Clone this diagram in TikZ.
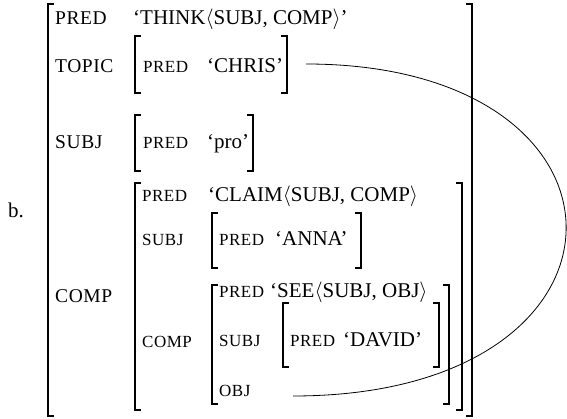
\documentclass[tikz,border=0pt]{standalone}
\usepackage{fontspec}
\setmainfont{Liberation Serif}
\tikzset{
  corchete/.style={line width=1.2pt},
  liga/.style={line width=0.8pt},
  atrA/.style={anchor=base west, inner sep=0pt, font=\fontsize{19.5}{21}\selectfont\addfontfeature{LetterSpace=3}},
  atrB/.style={anchor=base west, inner sep=0pt, font=\fontsize{17}{19}\selectfont\addfontfeature{LetterSpace=3}},
  valor/.style={anchor=base west, inner sep=0pt, font=\fontsize{21}{23}\selectfont}
}
\begin{document}
\begin{tikzpicture}[x=1pt, y=-1pt]
  \useasboundingbox (0,0) rectangle (567,419);

  % Etiqueta del ejemplo
  \node[valor] (etiq) at (8,218) {b.};

  % Nivel superior
  \node[atrA] (predA) at (55,25) {PRED};
  \node[valor] (thinkV) at (133,25) {`THINK$\langle$SUBJ, COMP$\rangle$'};
  \node[atrA] (topicA) at (55,73) {TOPIC};
  \node[atrB] (predT) at (143,73) {PRED};
  \node[valor] (chrisV) at (207,73) {`CHRIS'};
  \node[atrA] (subjA) at (55,149) {SUBJ};
  \node[atrB] (predS) at (143,149) {PRED};
  \node[valor] (proV) at (207,149) {`pro'};
  \node[atrA] (compA) at (55,302) {COMP};

  % COMP
  \node[atrB] (predC) at (142,202) {PRED};
  \node[valor] (claimV) at (208,202) {`CLAIM$\langle$SUBJ, COMP$\rangle$};
  \node[atrB] (subjC) at (142,246) {SUBJ};
  \node[atrB] (predCS) at (219,246) {PRED};
  \node[valor] (annaV) at (275,246) {`ANNA'};
  \node[atrB] (compC) at (142,347) {COMP};

  % COMP interior
  \node[atrB] (predI) at (219,298) {PRED};
  \node[valor] (seeV) at (270,298) {`SEE$\langle$SUBJ, OBJ$\rangle$};
  \node[atrB] (subjI) at (219,346) {SUBJ};
  \node[atrB] (predIS) at (290,346) {PRED};
  \node[valor] (davidV) at (343,346) {`DAVID'};
  \node[atrB] (objI) at (219,396) {OBJ};

  % Corchetes
  \draw[corchete] (54,4) -| (48,416) -- (54,416);
  \draw[corchete] (466,4) -| (472,416) -- (466,416);
  \draw[corchete] (141,36) -| (135,93) -- (141,93);
  \draw[corchete] (281,36) -| (287,93) -- (281,93);
  \draw[corchete] (141,115) -| (135,171) -- (141,171);
  \draw[corchete] (247,115) -| (253,171) -- (247,171);
  \draw[corchete] (141,183) -| (135,410) -- (141,410);
  \draw[corchete] (456,183) -| (462,410) -- (456,410);
  \draw[corchete] (218,213) -| (212,268) -- (218,268);
  \draw[corchete] (355,213) -| (361,268) -- (355,268);
  \draw[corchete] (218,285) -| (212,404) -- (218,404);
  \draw[corchete] (443,285) -| (449,404) -- (443,404);
  \draw[corchete] (289,303) -| (283,367) -- (289,367);
  \draw[corchete] (433,303) -| (439,367) -- (433,367);

  % Linea de TOPIC a OBJ
  \coordinate (ligaIni) at (306,64);
  \coordinate (ligaFin) at (293,396);
  \draw[liga] (ligaIni) .. controls (655,64) and (655,396) .. (ligaFin);
\end{tikzpicture}
\end{document}
